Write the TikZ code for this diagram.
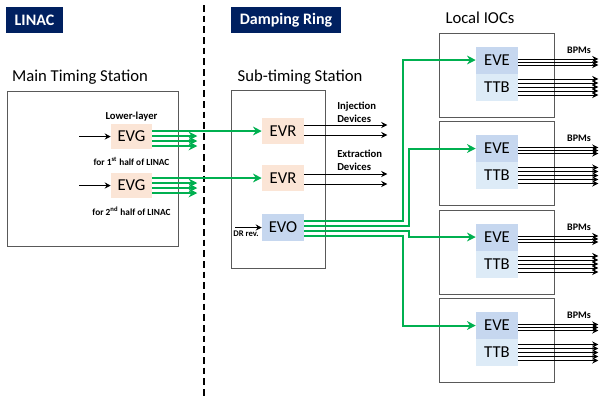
\documentclass[tikz,border=0pt]{standalone}
\usepackage{fontspec}
\setmainfont{Carlito}
\usetikzlibrary{arrows.meta,calc}
\definecolor{navy}{HTML}{002060}
\definecolor{peach}{HTML}{FBE5D6}
\definecolor{evblue}{HTML}{C6D7EF}
\definecolor{ttbblue}{HTML}{DDEBF7}
\definecolor{ggreen}{HTML}{00B050}
\definecolor{framegray}{HTML}{595959}
\begin{document}
\begin{tikzpicture}[x=0.75pt,y=-0.75pt,
  sz/.style 2 args={minimum width=#1*0.75pt, minimum height=#2*0.75pt, inner sep=0pt},
  banner/.style={fill=navy, text=white, font=\bfseries\fontsize{12}{14}\selectfont},
  frame/.style={draw=framegray, line width=0.75pt},
  titletext/.style={font=\fontsize{12.5}{15}\selectfont, inner sep=0pt},
  evgbox/.style={fill=peach, font=\fontsize{12.5}{14}\selectfont},
  evbbox/.style={fill=evblue, font=\fontsize{12.5}{14}\selectfont},
  ttbbox/.style={fill=ttbblue, font=\fontsize{12.5}{14}\selectfont},
  smalltext/.style={font=\bfseries\fontsize{8}{9.75}\selectfont, inner sep=0pt},
  tinytext/.style={font=\bfseries\fontsize{7}{8}\selectfont, inner sep=0pt},
  bpmtext/.style={font=\bfseries\fontsize{7.5}{8}\selectfont, inner sep=0pt},
  drtext/.style={font=\bfseries\fontsize{6.5}{7}\selectfont, inner sep=0pt},
  blk/.style={draw=black, line width=0.75pt, -{Stealth[length=4.5pt,width=4.5pt]}},
  garr/.style={draw=ggreen, line width=1.5pt, -{Stealth[length=6.5pt,width=6.5pt]}},
  divider/.style={draw=black, line width=1.1pt, dash pattern=on 5pt off 3pt}]
\useasboundingbox (0,0) rectangle (602,401);

% banners and divider
\node[banner, sz={57}{26}] (linac) at (34.5,20) {LINAC};
\node[banner, sz={110}{26}] (dr) at (286,20) {Damping Ring};
\coordinate (dtop) at (204,5);
\coordinate (dbot) at (204,398);
\draw[divider] (dtop) -- (dbot);

% station frames
\node[titletext] (mtslabel) at (80,77) {Main Timing Station};
\node[frame, sz={171}{155}] (mts) at (92.5,168.5) {};
\node[titletext] (stslabel) at (300,77) {Sub-timing Station};
\node[frame, sz={94}{178}] (sts) at (278,179) {};
\node[titletext] (ioclabel) at (480,18) {Local IOCs};

% main timing station
\node[evgbox, sz={41}{25}] (evg1) at (131.5,136.5) {EVG};
\node[evgbox, sz={41}{25}] (evg2) at (131.5,185.5) {EVG};
\node[smalltext] (ll) at (131.5,116.5) {Lower-layer};
\node[tinytext] (f1) at (131.5,161) {for 1\textsuperscript{st} half of LINAC};
\node[tinytext] (f2) at (131.5,211) {for 2\textsuperscript{nd} half of LINAC};
\coordinate (in1) at (79,136.5);
\coordinate (in2) at (79,185.5);
\draw[blk] (in1) -- (evg1.west);
\draw[blk] (in2) -- (evg2.west);

% sub-timing station
\node[evgbox, sz={42}{26}] (evr1) at (283,131) {EVR};
\node[evgbox, sz={42}{26}] (evr2) at (283,178) {EVR};
\node[evbbox, sz={42}{27}] (evo) at (283,227.5) {EVO};

\draw[garr] ($(evg1.east)+(0,-5.5)$) -- (evr1.west);
\foreach \d in {-0.5,4.5,9.5} \draw[garr] ($(evg1.east)+(0,\d)$) -- ++(45,0);
\draw[garr] ($(evg2.east)+(0,-7.5)$) -- (evr2.west);
\foreach \d in {-2.5,2.5,7.5} \draw[garr] ($(evg2.east)+(0,\d)$) -- ++(45,0);

\draw[blk] ($(evr1.east)+(0,-6)$) -- ++(83,0);
\draw[blk] ($(evr1.east)+(0,4)$) -- ++(83,0);
\draw[blk] ($(evr2.east)+(0,-4)$) -- ++(83,0);
\draw[blk] ($(evr2.east)+(0,6)$) -- ++(83,0);
\node[smalltext, align=left, anchor=west] (inj) at (337,112.5) {Injection\\Devices};
\node[smalltext, align=left, anchor=west] (ext) at (337,160.5) {Extraction\\Devices};

\coordinate (drin) at (235,227.5);
\draw[blk] (drin) -- (evo.west);
\node[drtext] (drrev) at (246,234) {DR rev.};

% local IOCs
\foreach \i/\cy in {1/75,2/163.5,3/252,4/340.5}{
  \node[frame, sz={115}{84}] (ioc\i) at (496.5,\cy) {};
  \node[evbbox, sz={42}{27}] (eve\i) at (497,\cy-15) {EVE};
  \node[ttbbox, sz={42}{27}] (ttb\i) at (497,\cy+12) {TTB};
  \foreach \d in {-1,2,5} \draw[blk] ($(eve\i.east)+(0,\d)$) -- ++(80,0);
  \foreach \d in {-8,-4,0,4,8} \draw[blk] ($(ttb\i.east)+(0,\d)$) -- ++(80,0);
  \node[bpmtext] (bpm\i) at (579,\cy-25) {BPMs};
}

% EVO distribution
\draw[garr] ($(evo.east)+(0,-6.5)$) -- ++(99,0) |- (eve1.west);
\draw[garr] ($(evo.east)+(0,-1.5)$) -- ++(105,0) |- (eve2.west);
\draw[garr] ($(evo.east)+(0,3.5)$) -- ++(105,0) |- (eve3.west);
\draw[garr] ($(evo.east)+(0,8.5)$) -- ++(99,0) |- (eve4.west);
\end{tikzpicture}
\end{document}
